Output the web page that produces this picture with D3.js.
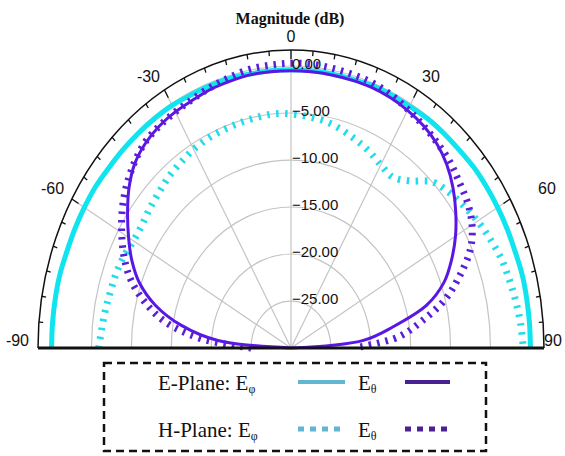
<!DOCTYPE html>
<html>
<head>
<meta charset="utf-8">
<script src="https://cdn.jsdelivr.net/npm/d3@7"></script>
<style>
body { margin: 0; background: #fff; }
text { font-family: Arial, "Liberation Sans", sans-serif; }
.serif { font-family: "Times New Roman", "Liberation Serif", serif; }
</style>
</head>
<body>
<div id="chart"></div>
<script>
// Angles (degrees) at which the patterns were read, -90..90 every 5.
var angles = [-90, -85, -80, -75, -70, -65, -60, -55, -50, -45, -40, -35, -30, -25, -20, -15, -10, -5,
  0, 5, 10, 15, 20, 25, 30, 35, 40, 45, 50, 55, 60, 65, 70, 75, 80, 85, 90];

// Magnitudes in dB, one per angle.
var ePlanePhi = [0, 0, 0, 0, -0.1, -0.1, -0.1, -0.1, -0.2, -0.2, -0.2, -0.2, -0.2, -0.3, -0.3, -0.3, -0.4, -0.4,
  -0.4, -0.4, -0.4, -0.4, -0.3, -0.3, -0.3, -0.2, -0.2, -0.2, -0.1, -0.1, -0.1, -0.1, -0.1, 0, 0, 0, 0];
var ePlaneTheta = [-30, -20.8, -16.0, -12.4, -9.8, -8.0, -6.5, -5.0, -3.5, -2.3, -1.6, -1.2, -1.0, -0.9, -0.7, -0.6, -0.5, -0.5,
  -0.5, -0.5, -0.5, -0.5, -0.5, -0.6, -0.8, -1.1, -1.6, -2.4, -3.5, -4.8, -6.2, -7.8, -9.6, -12.4, -17.0, -21.0, -30];
var hPlanePhi = [-5.9, -6.2, -6.4, -6.6, -6.7, -6.9, -7.2, -7.2, -6.9, -6.6, -6.2, -5.9, -5.6, -5.4, -5.3, -5.2, -5.1, -5.0,
  -5.1, -5.3, -5.5, -5.9, -6.4, -6.9, -7.5, -7.8, -6.8, -5.0, -4.2, -3.6, -3.0, -2.5, -2.0, -1.7, -1.4, -1.1, -0.9];
var hPlaneTheta = [-25, -18.7, -14.0, -11.0, -8.6, -6.9, -5.5, -4.2, -3.1, -2.2, -1.5, -1.2, -1.0, -0.8, -0.5, -0.2, 0.1, 0.2,
  0.3, 0.3, 0.2, 0.1, 0, -0.3, -0.7, -1.1, -1.5, -1.9, -2.5, -3.0, -3.8, -5.2, -7.5, -10.0, -13.3, -16.5, -22];

var ringValues = [-25, -20, -15, -10, -5, 0];
var angleLabels = [-90, -60, -30, 0, 30, 60, 90];
var spokeAngles = [-60, -30, 0, 30, 60];

var series = [
  { name: "E-Plane E\u03c6", values: ePlanePhi, color: "#10e4ee", width: 5, dash: null },
  { name: "H-Plane E\u03c6", values: hPlanePhi, color: "#22dcec", width: 7, dash: "2.5,6.5" },
  { name: "E-Plane E\u03b8", values: ePlaneTheta, color: "#5a16e4", width: 3, dash: null },
  { name: "H-Plane E\u03b8", values: hPlaneTheta, color: "#5a1ed8", width: 7, dash: "2.5,6" }
];

var width = 565, height = 456;
var cx = 291, cy = 348;
var outerR = 298;          // vertical radius of the outer arc
var kx = 253 / 298;        // the plot is squeezed horizontally

var rScale = d3.scaleLinear().domain([-30, 0]).range([0, 282]);
var aScale = d3.scaleLinear().domain([-90, 90]).range([-Math.PI / 2, Math.PI / 2]);

function pt(deg, r) {
  var a = aScale(deg);
  return [cx + r * kx * Math.sin(a), cy - r * Math.cos(a)];
}
function halfEllipse(r) {
  return "M" + (cx - r * kx) + "," + cy + " A" + (r * kx) + "," + r + " 0 0 1 " + (cx + r * kx) + "," + cy;
}

var svg = d3.select("#chart").append("svg")
  .attr("width", width)
  .attr("height", height);

// Grid rings.
svg.append("g").selectAll("path")
  .data(ringValues)
  .enter().append("path")
  .attr("d", function(d) { return halfEllipse(rScale(d)); })
  .attr("fill", "none")
  .attr("stroke", "#c4c4c4")
  .attr("stroke-width", 1.2);

// Spokes.
svg.append("g").selectAll("line")
  .data(spokeAngles)
  .enter().append("line")
  .attr("x1", cx).attr("y1", cy)
  .attr("x2", function(d) { return pt(d, outerR)[0]; })
  .attr("y2", function(d) { return pt(d, outerR)[1]; })
  .attr("stroke", "#c4c4c4")
  .attr("stroke-width", 1.2);

// The curves.
var line = d3.line()
  .x(function(d) { return pt(d.a, rScale(d.v))[0]; })
  .y(function(d) { return pt(d.a, rScale(d.v))[1]; })
  .curve(d3.curveCatmullRom.alpha(0.5));

svg.append("g").selectAll("path")
  .data(series)
  .enter().append("path")
  .attr("d", function(s) {
    return line(angles.map(function(a, i) { return { a: a, v: s.values[i] }; }));
  })
  .attr("fill", "none")
  .attr("stroke", function(s) { return s.color; })
  .attr("stroke-width", function(s) { return s.width; })
  .attr("stroke-dasharray", function(s) { return s.dash; })
  .attr("stroke-linejoin", "round");

// Outer arc, baseline and ticks.
svg.append("path")
  .attr("d", halfEllipse(outerR))
  .attr("fill", "none")
  .attr("stroke", "#111")
  .attr("stroke-width", 1.5);

svg.append("line")
  .attr("x1", pt(-90, outerR)[0]).attr("y1", cy)
  .attr("x2", pt(90, outerR)[0]).attr("y2", cy)
  .attr("stroke", "#111")
  .attr("stroke-width", 3);

svg.append("g").selectAll("line")
  .data(d3.range(-85, 90, 5))
  .enter().append("line")
  .attr("x1", function(d) { return pt(d, outerR)[0]; })
  .attr("y1", function(d) { return pt(d, outerR)[1]; })
  .attr("x2", function(d) { return pt(d, outerR - (d % 30 === 0 ? 9 : 5))[0]; })
  .attr("y2", function(d) { return pt(d, outerR - (d % 30 === 0 ? 9 : 5))[1]; })
  .attr("stroke", "#111")
  .attr("stroke-width", 1.3);

// Angle labels (the right-hand ones sit a little further out).
function labelX(d) {
  if (d === 90) return cx + 253;
  if (d === 60) return cx + 247;
  return cx + 262 * Math.sin(aScale(d));
}
svg.append("g").selectAll("text")
  .data(angleLabels)
  .enter().append("text")
  .attr("x", labelX)
  .attr("y", function(d) { return cy - 8 - 304 * Math.cos(aScale(d)); })
  .attr("text-anchor", function(d) { return d < 0 ? "end" : d > 0 ? "start" : "middle"; })
  .attr("dominant-baseline", "central")
  .attr("font-size", 16)
  .attr("fill", "#111")
  .text(function(d) { return d; });

// Radial labels.
svg.append("g").selectAll("text")
  .data(ringValues)
  .enter().append("text")
  .attr("x", cx + 1)
  .attr("y", function(d) { return cy - rScale(d) - 3; })
  .attr("dominant-baseline", "central")
  .attr("font-size", 15)
  .attr("fill", "#111")
  .text(d3.format(".2f"));

// Title.
svg.append("text")
  .attr("class", "serif")
  .attr("x", 290)
  .attr("y", 24)
  .attr("text-anchor", "middle")
  .attr("font-size", 16)
  .attr("font-weight", "bold")
  .attr("fill", "#111")
  .text("Magnitude (dB)");

// Legend.
var legend = svg.append("g");
legend.append("rect")
  .attr("x", 104).attr("y", 363)
  .attr("width", 382).attr("height", 88)
  .attr("fill", "none")
  .attr("stroke", "#111")
  .attr("stroke-width", 2.5)
  .attr("stroke-dasharray", "8,5");

var legendRows = [
  { label: "E-Plane: E", y: 390, dash: null, width: 4 },
  { label: "H-Plane: E", y: 437, dash: "6,6", width: 5 }
];
var legendColors = ["#62b6d2", "#4a2192"];

legendRows.forEach(function(row) {
  var t = legend.append("text").attr("class", "serif")
    .attr("x", 158).attr("y", row.y)
    .attr("font-size", 21).attr("fill", "#111");
  t.append("tspan").text(row.label);
  t.append("tspan").attr("font-size", 12).attr("dy", 3).text("\u03c6");

  var t2 = legend.append("text").attr("class", "serif")
    .attr("x", 358).attr("y", row.y)
    .attr("font-size", 21).attr("fill", "#111");
  t2.append("tspan").text("E");
  t2.append("tspan").attr("font-size", 12).attr("dy", 3).text("\u03b8");

  [[298, 345], [405, 450]].forEach(function(xs, i) {
    legend.append("line")
      .attr("x1", xs[0]).attr("x2", xs[1])
      .attr("y1", row.y - 8).attr("y2", row.y - 8)
      .attr("stroke", legendColors[i])
      .attr("stroke-width", row.width)
      .attr("stroke-dasharray", row.dash);
  });
});
</script>
</body>
</html>
